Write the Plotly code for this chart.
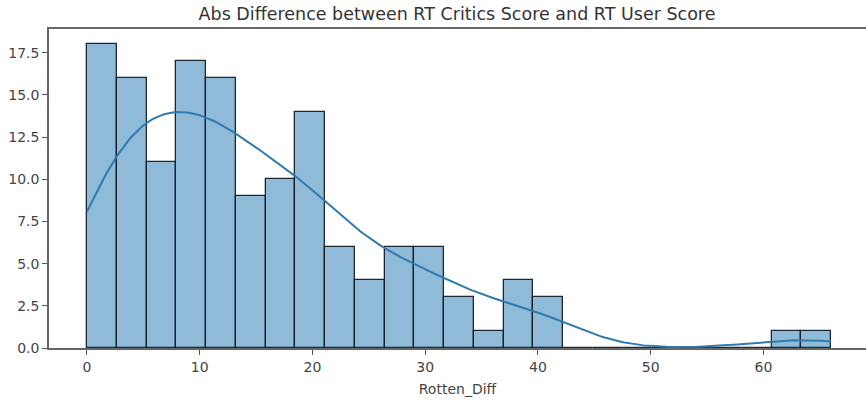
import numpy as np
import plotly.graph_objects as go

# Histogram of Rotten_Diff: 25 equal bins spanning 0..66
bin_start = 0.0
bin_end = 66.0
counts = [18, 16, 11, 17, 16, 9, 10, 14, 6, 4, 6, 6, 3, 1, 4, 3,
          0, 0, 0, 0, 0, 0, 0, 1, 1]
x_ticks = [0, 10, 20, 30, 40, 50, 60]
y_ticks = [0.0, 2.5, 5.0, 7.5, 10.0, 12.5, 15.0, 17.5]

n_bins = len(counts)
width = (bin_end - bin_start) / n_bins
edges = bin_start + width * np.arange(n_bins + 1)
centers = (edges[:-1] + edges[1:]) / 2

# Gaussian KDE (Scott's rule) from the binned observations, scaled to counts
samples = np.repeat(centers, counts)
n = len(samples)
bw = samples.std(ddof=1) * n ** (-1 / 5)
grid = np.linspace(bin_start, bin_end, 300)
dens = np.exp(-0.5 * ((grid[:, None] - samples[None, :]) / bw) ** 2).sum(axis=1)
dens = dens / (n * bw * np.sqrt(2 * np.pi))
kde = dens * n * width

fig = go.Figure()
fig.add_trace(go.Bar(
    x=centers, y=counts, width=width,
    marker=dict(color="rgba(31,119,180,0.5)",
                line=dict(color="rgba(20,30,40,0.95)", width=1.3)),
    hoverinfo="skip",
))
fig.add_trace(go.Scatter(
    x=grid, y=kde, mode="lines",
    line=dict(color="#2f7bb0", width=2),
    hoverinfo="skip",
))

axis_font = dict(family="DejaVu Sans", size=14, color="#444")
fig.update_layout(
    width=866, height=403,
    margin=dict(l=49, r=0, t=29, b=55),
    paper_bgcolor="white", plot_bgcolor="white",
    showlegend=False, bargap=0,
    title=dict(text="Abs Difference between RT Critics Score and RT User Score",
               x=457 / 866, xanchor="center",
               y=1 - 13.5 / 403, yanchor="middle",
               font=dict(family="DejaVu Sans", size=17.5, color="#333")),
    xaxis=dict(range=[-3.37, 69.1], tickvals=x_ticks,
               ticks="outside", ticklen=5, tickcolor="#555",
               showline=True, linecolor="#666", linewidth=1.5, mirror=True,
               showgrid=False, zeroline=False, tickfont=axis_font,
               title=dict(text="Rotten_Diff", font=axis_font, standoff=11)),
    yaxis=dict(range=[0, 18.9], tickvals=y_ticks, tickformat=".1f",
               ticks="outside", ticklen=5, tickcolor="#555",
               showline=True, linecolor="#666", linewidth=1.5,
               showgrid=False, zeroline=False, tickfont=axis_font),
)

fig.write_html("out.html")
